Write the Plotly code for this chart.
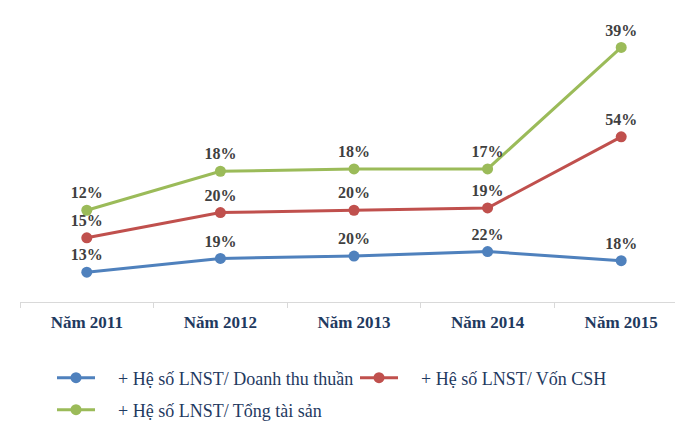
import plotly.graph_objects as go

categories = ["Năm 2011", "Năm 2012", "Năm 2013", "Năm 2014", "Năm 2015"]
series_names = [
    "+ Hệ số LNST/ Doanh thu thuần",
    "+ Hệ số LNST/ Vốn CSH",
    "+ Hệ số LNST/ Tổng tài sản",
]
dt_thuan = [13, 19, 20, 22, 18]
von_csh = [15, 20, 20, 19, 54]
tong_ts = [12, 18, 18, 17, 39]

colors = ["#4F81BD", "#C0504D", "#9BBB59"]
values = [dt_thuan, von_csh, tong_ts]
legends = ["legend", "legend", "legend2"]
pad = "\u00a0" * 4
SERIF = "Liberation Serif, Times New Roman, serif"

fig = go.Figure()
for name, vals, col, lg in zip(series_names, values, colors, legends):
    fig.add_trace(go.Scatter(
        x=categories, y=vals, name=pad + name, stackgroup="one", fill="none",
        mode="lines+markers+text",
        line=dict(color=col, width=3),
        marker=dict(color=col, size=11),
        text=[f"{v}%" for v in vals],
        textposition="top center",
        textfont=dict(family=SERIF, size=16, color="#404040", weight="bold"),
        legend=lg,
        hoverinfo="skip",
    ))

legend_font = dict(family=SERIF, size=18, color="#1F3A5F")
fig.update_layout(
    width=683, height=425,
    font=dict(family=SERIF),
    margin=dict(l=12, r=3, t=2, b=131),
    plot_bgcolor="white", paper_bgcolor="white",
    showlegend=True,
    legend=dict(orientation="h", x=44/683, xanchor="left", y=1-370/425, yanchor="middle",
                xref="container", yref="container", font=legend_font, itemwidth=38,
                entrywidth=250, traceorder="normal", bgcolor="rgba(0,0,0,0)"),
    legend2=dict(orientation="h", x=44/683, xanchor="left", y=1-402/425, yanchor="middle",
                 xref="container", yref="container", font=legend_font, itemwidth=38,
                 bgcolor="rgba(0,0,0,0)"),
    xaxis=dict(range=[-0.5, 4.5], autorange=False, showline=True, linecolor="#D9D9D9",
               linewidth=1, ticks="outside",
               tickson="boundaries", ticklen=5, tickcolor="#D9D9D9",
               tickfont=dict(family=SERIF, size=17, color="#1F3A5F", weight="bold"),
               ticklabelstandoff=5, showgrid=False, fixedrange=True),
    yaxis=dict(range=[0, 127.3], autorange=False, visible=False, showgrid=False, zeroline=False),
)
fig.write_html("out.html")
